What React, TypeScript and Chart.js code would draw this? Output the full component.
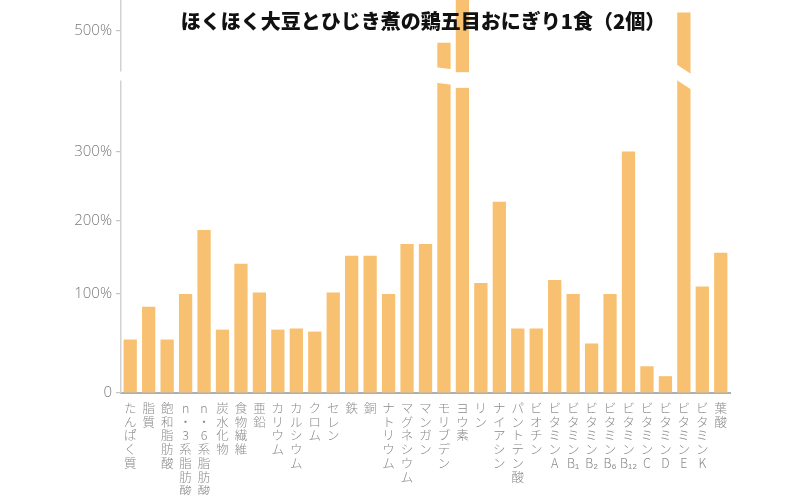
import React, { useEffect, useRef } from 'react';
import { Chart, LinearScale, registerables } from 'chart.js';

// ---------- data ----------
const TITLE = 'ほくほく大豆とひじき煮の鶏五目おにぎり1食（2個）';

const categories: string[] = [
  'たんぱく質', '脂質', '飽和脂肪酸', 'n-3系脂肪酸', 'n-6系脂肪酸',
  '炭水化物', '食物繊維', '亜鉛', 'カリウム', 'カルシウム',
  'クロム', 'セレン', '鉄', '銅', 'ナトリウム',
  'マグネシウム', 'マンガン', 'モリブデン', 'ヨウ素', 'リン',
  'ナイアシン', 'パントテン酸', 'ビオチン', 'ビタミンA', 'ビタミンB₁',
  'ビタミンB₂', 'ビタミンB₆', 'ビタミンB₁₂', 'ビタミンC', 'ビタミンD',
  'ビタミンE', 'ビタミンK', '葉酸',
];

// % of daily requirement (ヨウ素 runs off the top of the chart)
const values: number[] = [
  54, 87, 54, 100, 187,
  64, 141, 102, 64, 65,
  62, 102, 152, 152, 100,
  168, 168, 480, 900, 115,
  227, 65, 65, 119, 100,
  50, 100, 300, 27, 17,
  526, 110, 156,
];

const yTickValues: number[] = [0, 100, 200, 300, 500];
const yMax = 544;
const breakRange: number[] = [412, 438]; // value band hidden by the axis break

// ---------- broken (piecewise) value scale ----------
const KNOT_VALUES = [0, 100, 200, 300, 500];
const KNOT_POS = [0, 99, 172.5, 241.5, 362];
const TOP_SLOPE = 0.7;

function toPos(v: number): number {
  if (v <= 0) return v * (KNOT_POS[1] / KNOT_VALUES[1]);
  for (let i = 1; i < KNOT_VALUES.length; i++) {
    if (v <= KNOT_VALUES[i]) {
      const t = (v - KNOT_VALUES[i - 1]) / (KNOT_VALUES[i] - KNOT_VALUES[i - 1]);
      return KNOT_POS[i - 1] + t * (KNOT_POS[i] - KNOT_POS[i - 1]);
    }
  }
  const n = KNOT_VALUES.length - 1;
  return KNOT_POS[n] + (v - KNOT_VALUES[n]) * TOP_SLOPE;
}
function fromPos(p: number): number {
  if (p <= 0) return p / (KNOT_POS[1] / KNOT_VALUES[1]);
  for (let i = 1; i < KNOT_POS.length; i++) {
    if (p <= KNOT_POS[i]) {
      const t = (p - KNOT_POS[i - 1]) / (KNOT_POS[i] - KNOT_POS[i - 1]);
      return KNOT_VALUES[i - 1] + t * (KNOT_VALUES[i] - KNOT_VALUES[i - 1]);
    }
  }
  const n = KNOT_POS.length - 1;
  return KNOT_VALUES[n] + (p - KNOT_POS[n]) / TOP_SLOPE;
}

class BrokenLinearScale extends (LinearScale as any) {
  static id = 'brokenLinear';
  static defaults = {};
  getPixelForValue(value: number) {
    const a = toPos(this.min), b = toPos(this.max);
    return this.getPixelForDecimal((toPos(value) - a) / (b - a));
  }
  getValueForPixel(pixel: number) {
    const a = toPos(this.min), b = toPos(this.max);
    return fromPos(a + this.getDecimalForPixel(pixel) * (b - a));
  }
}

Chart.register(...registerables, BrokenLinearScale as any);

const verticalLabel = (s: string): string[] =>
  (s.replace('-', '・').match(/[A-Z][₀-₉]*|./gu) || []) as string[];

// per-bar look of the break cut (px): [shift, slant]
const cutStyle: Record<number, number[]> = { 17: [-1, 2], 18: [4, 0], 30: [-4, 10] };

const breakPlugin = {
  id: 'breakPlugin',
  afterDatasetsDraw(chart: any) {
    const ctx = chart.ctx;
    const y = chart.scales.y;
    const yHi = y.getPixelForValue(breakRange[1]);
    const yLo = y.getPixelForValue(breakRange[0]);
    ctx.save();
    ctx.fillStyle = '#ffffff';
    // axis gap
    const mid = (yHi + yLo) / 2;
    ctx.fillRect(y.right - 4, mid - 4.5, 8, 9);
    // bar cuts
    const meta = chart.getDatasetMeta(0);
    values.forEach((v, i) => {
      if (v <= breakRange[1]) return;
      const bar = meta.data[i];
      const { x, width } = bar.getProps(['x', 'width'], true);
      const st = cutStyle[i] || [0, 0];
      const l = x - width / 2 - 1, r = x + width / 2 + 1;
      ctx.beginPath();
      ctx.moveTo(l, yHi + st[0]);
      ctx.lineTo(r, yHi + st[0] + st[1]);
      ctx.lineTo(r, yLo + st[0] + st[1]);
      ctx.lineTo(l, yLo + st[0]);
      ctx.closePath();
      ctx.fill();
    });
    ctx.restore();
  },
};

const titlePlugin = {
  id: 'overTitle',
  afterDraw(chart: any) {
    const ctx = chart.ctx;
    ctx.save();
    ctx.font = '900 20px "Noto Sans CJK JP", sans-serif';
    ctx.fillStyle = '#111111';
    ctx.textAlign = 'center';
    ctx.textBaseline = 'middle';
    ctx.fillText(TITLE, 423, 21);
    ctx.restore();
  },
};

export default function App() {
  const ref = useRef<HTMLCanvasElement>(null);
  useEffect(() => {
    if (!ref.current) return;
    const chart = new Chart(ref.current, {
      type: 'bar',
      data: {
        labels: categories.map(verticalLabel),
        datasets: [
          {
            data: values,
            backgroundColor: '#F8C171',
            borderWidth: 0,
            barPercentage: 0.72,
            categoryPercentage: 1,
          },
        ],
      },
      options: {
        animation: false,
        responsive: false,
        layout: { padding: { left: 0, right: 70, top: 0, bottom: 0 } },
        plugins: { legend: { display: false }, title: { display: false }, tooltip: { enabled: false } },
        scales: {
          x: {
            type: 'category',
            offset: true,
            grid: { display: false, drawTicks: false },
            border: { display: true, color: '#aab0ba', width: 2 },
            ticks: {
              autoSkip: false,
              maxRotation: 0,
              minRotation: 0,
              padding: 8,
              color: '#8a8a8a',
              font: { family: '"Noto Sans CJK JP", sans-serif', size: 12.5, weight: '300', lineHeight: 1.11 },
            },
            afterFit: (s: any) => {
              s.height = 102;
              s.paddingLeft = 0;
              s.paddingRight = 0;
            },
          },
          y: {
            type: 'brokenLinear' as any,
            min: 0,
            max: yMax,
            afterBuildTicks: (s: any) => {
              s.ticks = yTickValues.map((v) => ({ value: v }));
            },
            ticks: {
              callback: (v: any) => (Number(v) === 0 ? '0' : `${v}%`),
              color: '#7a7a7a',
              padding: 4,
              font: { family: '"Open Sans", "Noto Sans", sans-serif', size: 15, weight: '300' },
            },
            grid: { display: true, drawOnChartArea: false, drawTicks: true, tickLength: 5, color: '#c4c4c4', lineWidth: 1.2 },
            border: { display: true, color: '#d2d2d2', width: 1.5 },
            afterFit: (s: any) => {
              s.width = 121;
              s.paddingTop = 0;
              s.paddingBottom = 0;
            },
          } as any,
        },
      },
      plugins: [breakPlugin, titlePlugin],
    } as any);
    return () => chart.destroy();
  }, []);
  return (
    <div style={{ position: 'absolute', left: 0, top: 0, width: 800, height: 495, background: '#fff' }}>
      <canvas ref={ref} width={800} height={495} style={{ display: 'block' }} />
    </div>
  );
}
